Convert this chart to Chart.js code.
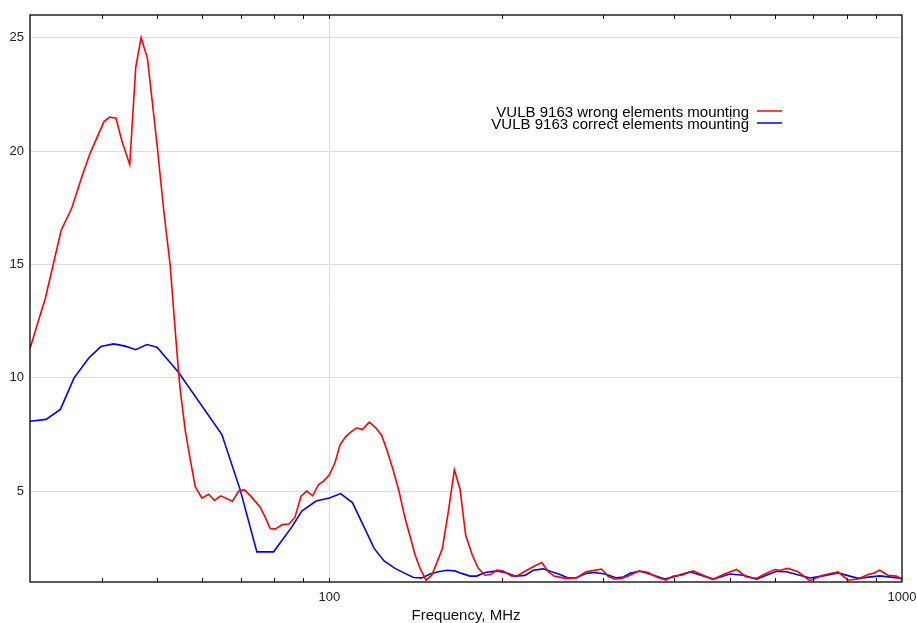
<!DOCTYPE html>
<html>
<head>
<meta charset="utf-8">
<script src="https://cdn.jsdelivr.net/npm/chart.js@4/dist/chart.umd.min.js"></script>
<style>
  html, body { margin: 0; padding: 0; background: #fff; }
  #wrap { width: 917px; height: 623px; }
</style>
</head>
<body>
<div id="wrap"><canvas id="c"></canvas></div>
<script>
// values
const wrongFreq = [30, 31.1, 31.9, 34, 35.5, 37.1, 38.2, 40.4, 41.3, 42.4, 43.4, 44.8, 45.9, 46.9, 48.1,
  50, 51.3, 52.7, 53.6, 54.5, 54.9, 56, 57.1, 58.3, 59.9, 61.5, 63, 64.6, 67.7, 69.4, 71, 72.7, 75.7,
  77.2, 78.8, 80.4, 82.8, 85, 87.1, 89.2, 91.3, 93.5, 95.7, 97.6, 100, 102.3, 104.4, 106.8, 109.1,
  111.6, 114.2, 117.4, 120.5, 123.4, 126.2, 129.3, 132.3, 135.5, 138.3, 141.2, 144, 147.5, 150.9,
  153.9, 157.5, 161.3, 165.3, 169.1, 173, 177.7, 182, 187, 191.2, 196, 201.2, 208.2, 213.8, 221.1,
  229.5, 234.9, 241.2, 246.7, 258.9, 270.3, 280.5, 288.9, 298.8, 306.9, 315.3, 326, 334.9, 347.5,
  360.3, 372.7, 386.9, 398.4, 412.1, 431.8, 449.5, 468, 487.2, 514, 535.1, 557.1, 576, 599.7, 611.9,
  632.4, 658.3, 690.1, 727.9, 773.1, 804.8, 837.9, 872.3, 890, 914.3, 945.3, 977.7, 1000];
const wrongLevel = [11.3, 12.6, 13.5, 16.5, 17.5, 19.0, 19.9, 21.3, 21.5, 21.45, 20.45, 19.4, 23.7, 25.0, 24.1,
  20.3, 17.5, 15.0, 12.6, 10.3, 9.45, 7.7, 6.45, 5.2, 4.7, 4.87, 4.6, 4.8, 4.56, 5.0, 5.07, 4.82, 4.3,
  3.87, 3.36, 3.33, 3.53, 3.56, 3.87, 4.78, 5.01, 4.8, 5.3, 5.44, 5.73, 6.27, 7.06, 7.41, 7.62,
  7.8, 7.72, 8.05, 7.8, 7.46, 6.77, 5.92, 5.0, 3.83, 3.02, 2.18, 1.6, 1.08, 1.3,
  1.82, 2.48, 4.09, 5.95, 5.09, 3.06, 2.18, 1.6, 1.3, 1.33, 1.52, 1.48, 1.26, 1.3, 1.52,
  1.74, 1.86, 1.45, 1.26, 1.16, 1.18, 1.45, 1.5, 1.57, 1.24, 1.12, 1.18, 1.3, 1.49,
  1.42, 1.22, 1.08, 1.26, 1.3, 1.49, 1.3, 1.11, 1.33, 1.55, 1.22, 1.16, 1.35, 1.55, 1.52,
  1.6, 1.45, 1.06, 1.3, 1.45, 1.08, 1.13, 1.33, 1.38, 1.52, 1.3, 1.26, 1.11];

const correctFreq = [30, 32, 33.9, 35.8, 38, 39.9, 42, 44, 45.9, 48, 50, 54.5, 64.9, 69.9, 74.7, 79.9,
  82, 86, 89.5, 94.8, 100, 104.6, 109.7, 114.6, 119.7, 124.6, 130.2, 135.5, 140.2, 145, 149.9, 155,
  160.3, 165.7, 170.2, 176, 180.8, 187, 196, 204, 210.9, 219.6, 227, 236.3, 244.5, 252.8, 261.3,
  270.3, 281.3, 290.9, 302.8, 317.4, 326, 334.9, 347.5, 358, 385.4, 404, 426.1, 468, 500.6, 528,
  557.1, 603.7, 628.6, 690.1, 727.9, 773.1, 837.9, 914.3, 1000];
const correctLevel = [8.09, 8.17, 8.61, 9.99, 10.88, 11.38, 11.5, 11.4, 11.24, 11.47, 11.35, 10.25, 7.5, 5.04, 2.33, 2.33,
  2.72, 3.43, 4.13, 4.57, 4.7, 4.9, 4.5, 3.5, 2.48, 1.93, 1.6, 1.38, 1.2, 1.18, 1.35, 1.45,
  1.52, 1.49, 1.38, 1.26, 1.26, 1.42, 1.49, 1.4, 1.26, 1.29, 1.52, 1.58, 1.45, 1.33, 1.18,
  1.2, 1.38, 1.42, 1.35, 1.18, 1.22, 1.38, 1.47, 1.4, 1.13, 1.26, 1.45, 1.13, 1.35, 1.3,
  1.13, 1.47, 1.45, 1.18, 1.27, 1.4, 1.16, 1.27, 1.16];

const seriesNames = ['VULB 9163 wrong elements mounting', 'VULB 9163 correct elements mounting'];
const xTicks = [30, 40, 50, 60, 70, 80, 90, 100, 200, 300, 400, 500, 600, 700, 800, 900, 1000];
const xLabels = [100, 1000];
const yTicks = [5, 10, 15, 20, 25];

const FONT = '"Liberation Sans", Arial, sans-serif';

function toPoints(xs, ys) {
  return xs.map((x, i) => ({ x: x, y: ys[i] }));
}

// frame, inward minor ticks and the legend in the upper right
const decorations = {
  id: 'decorations',
  afterDraw(chart) {
    const ctx = chart.ctx;
    const a = chart.chartArea;
    const xs = chart.scales.x;
    ctx.save();
    ctx.strokeStyle = '#000';
    ctx.lineWidth = 1.3;
    ctx.strokeRect(a.left, a.top, a.right - a.left, a.bottom - a.top);
    ctx.lineWidth = 1;
    xTicks.forEach(v => {
      if (v === 30 || v === 1000) return;
      const px = Math.round(xs.getPixelForValue(v)) + 0.5;
      ctx.beginPath();
      ctx.moveTo(px, a.top); ctx.lineTo(px, a.top + 4);
      ctx.moveTo(px, a.bottom); ctx.lineTo(px, a.bottom - 4);
      ctx.stroke();
    });

    ctx.font = '15px ' + FONT;
    ctx.textAlign = 'right';
    ctx.textBaseline = 'alphabetic';
    ctx.fillStyle = '#000';
    const colors = ['#ff0000', '#0000ff'];
    [117, 129].forEach((y, i) => {
      ctx.fillText(seriesNames[i], 749, y);
      ctx.strokeStyle = colors[i];
      ctx.lineWidth = 1.5;
      ctx.beginPath();
      ctx.moveTo(757, y - 6);
      ctx.lineTo(782, y - 6);
      ctx.stroke();
    });
    ctx.restore();
  }
};

new Chart(document.getElementById('c'), {
  type: 'line',
  data: {
    datasets: [
      { label: seriesNames[0], data: toPoints(wrongFreq, wrongLevel), borderColor: '#ff0000', borderWidth: 1.6 },
      { label: seriesNames[1], data: toPoints(correctFreq, correctLevel), borderColor: '#0000ff', borderWidth: 1.6 }
    ]
  },
  options: {
    responsive: true,
    maintainAspectRatio: false,
    animation: false,
    layout: { padding: { top: 15, right: 15, left: 0, bottom: 0 } },
    elements: { point: { radius: 0 }, line: { tension: 0 } },
    plugins: { legend: { display: false }, tooltip: { enabled: false } },
    scales: {
      x: {
        type: 'logarithmic',
        min: 30,
        max: 1000,
        afterBuildTicks: s => { s.ticks = xTicks.map(v => ({ value: v })); },
        afterFit: s => { s.height = 41; s.paddingLeft = 0; s.paddingRight = 0; },
        border: { display: false },
        grid: {
          drawTicks: false,
          color: c => (c.tick && c.tick.value === 100 ? '#dddddd' : 'rgba(0,0,0,0)')
        },
        ticks: {
          autoSkip: false,
          maxRotation: 0,
          padding: 8,
          color: '#222',
          font: { family: FONT, size: 13 },
          callback: v => (xLabels.includes(v) ? String(v) : '')
        },
        title: {
          display: true,
          text: 'Frequency, MHz',
          color: '#111',
          font: { family: FONT, size: 15 },
          padding: { top: 0, bottom: -2 }
        }
      },
      y: {
        min: 1,
        max: 26,
        afterBuildTicks: s => { s.ticks = yTicks.map(v => ({ value: v })); },
        afterFit: s => { s.width = 30; s.paddingTop = 0; s.paddingBottom = 0; },
        border: { display: false },
        grid: { drawTicks: false, color: '#dddddd' },
        ticks: {
          padding: 6,
          color: '#222',
          font: { family: FONT, size: 13 }
        }
      }
    }
  },
  plugins: [decorations]
});
</script>
</body>
</html>
